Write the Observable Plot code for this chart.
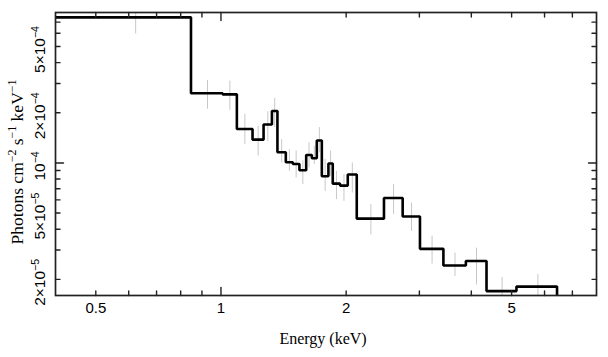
<!DOCTYPE html>
<html><head><meta charset="utf-8">
<script src="https://cdn.jsdelivr.net/npm/d3@7"></script>
<script src="https://cdn.jsdelivr.net/npm/@observablehq/plot@0.6"></script>
<style>body{margin:0;background:#fff} svg{display:block}</style>
</head><body><div id="chart"></div>
<script>
// Bin edges (keV)
const binLo = [0.400, 0.847, 1.009, 1.092, 1.191, 1.266, 1.326, 1.367, 1.432, 1.489, 1.544, 1.603, 1.654, 1.700, 1.748, 1.813, 1.857, 1.934, 2.018, 2.121, 2.466, 2.735, 3.010, 3.427, 3.881, 4.351, 5.136];
const binHi = [0.847, 1.009, 1.092, 1.191, 1.266, 1.326, 1.367, 1.432, 1.489, 1.544, 1.603, 1.654, 1.700, 1.748, 1.813, 1.857, 1.934, 2.018, 2.121, 2.466, 2.735, 3.010, 3.427, 3.881, 4.351, 5.136, 6.430];
// Model (step) values, photons cm^-2 s^-1 keV^-1
const model = [7.48e-4, 2.62e-4, 2.58e-4, 1.60e-4, 1.38e-4, 1.70e-4, 2.05e-4, 1.16e-4, 1.01e-4, 0.986e-4, 0.904e-4, 1.117e-4, 1.067e-4, 1.364e-4, 0.832e-4, 0.992e-4, 0.751e-4, 0.731e-4, 0.852e-4, 0.463e-4, 0.616e-4, 0.477e-4, 0.305e-4, 0.242e-4, 0.258e-4, 0.170e-4, 0.181e-4];
// Data error bars (grey)
const errLo = [5.94e-4, 2.10e-4, 2.07e-4, 1.29e-4, 1.10e-4, 1.34e-4, 1.63e-4, 1.00e-4, 0.891e-4, 0.812e-4, 0.741e-4, 0.933e-4, 0.978e-4, 1.15e-4, 0.675e-4, 0.832e-4, 0.602e-4, 0.588e-4, 0.660e-4, 0.370e-4, 0.489e-4, 0.388e-4, 0.247e-4, 0.208e-4, 0.185e-4, 0.13e-4, 0.14e-4];
const errHi = [9.5e-4, 3.13e-4, 3.10e-4, 1.96e-4, 1.66e-4, 2.03e-4, 2.44e-4, 1.38e-4, 1.20e-4, 1.18e-4, 1.03e-4, 1.32e-4, 1.26e-4, 1.63e-4, 1.05e-4, 1.18e-4, 0.891e-4, 0.852e-4, 1.00e-4, 0.562e-4, 0.741e-4, 0.574e-4, 0.364e-4, 0.288e-4, 0.308e-4, 0.205e-4, 0.214e-4];

const xDomain = [0.4, 8];
const yDomain = [1.6e-5, 8e-4];
const xLongTicks = [1];
const xShortTicks = [0.5, 0.6, 0.7, 0.8, 0.9, 2, 3, 4, 5, 6, 7];
const xTickValues = [0.5, 1, 2, 5];
const xTickLabels = ["0.5", "1", "2", "5"];
const yLongTicks = [1e-4];
const yShortTicks = [2e-5, 3e-5, 4e-5, 5e-5, 6e-5, 7e-5, 8e-5, 9e-5, 2e-4, 3e-4, 4e-4, 5e-4, 6e-4, 7e-4];
const yTickValues = [2e-5, 5e-5, 1e-4, 2e-4, 5e-4];
const yTickLabels = ["2×10^{−5}", "5×10^{−5}", "10^{−4}", "2×10^{−4}", "5×10^{−4}"];
const xTitle = "Energy (keV)";
const yTitle = "Photons cm^{−2} s^{−1} keV^{−1}";

const bins = binLo.map((lo, i) => ({lo, hi: binHi[i], v: model[i], eLo: errLo[i], eHi: errHi[i]}));
const stepPts = [];
bins.forEach(b => { stepPts.push({e: b.lo, f: b.v}); stepPts.push({e: b.hi, f: b.v}); });
stepPts.push({e: binHi[binHi.length - 1], f: yDomain[0]});

const tickShape = {draw(ctx, l) { ctx.moveTo(0, 0); ctx.lineTo(0, -l); }};
const tk = (data, ch, anchor, rotate, len) => Plot.vector(data, {
  [ch]: d => d, frameAnchor: anchor, rotate, length: len, anchor: "start",
  shape: tickShape, stroke: "#222", strokeWidth: 1.4
});

const sans = "'Liberation Sans', Arial, Helvetica, sans-serif";
const serif = "'Liberation Serif', 'Times New Roman', Times, serif";

const plot = Plot.plot({
  width: 608, height: 357,
  marginLeft: 55, marginRight: 12, marginTop: 12, marginBottom: 62,
  x: {type: "log", domain: xDomain, axis: null},
  y: {type: "log", domain: yDomain, axis: null},
  style: {fontFamily: sans, background: "#fff", color: "#000"},
  marks: [
    Plot.ruleX(bins, {x: d => (d.lo + d.hi) / 2, y1: "eLo", y2: "eHi", stroke: "#c8c8c8", strokeWidth: 1, clip: true}),
    Plot.line(stepPts, {x: "e", y: "f", stroke: "#000", strokeWidth: 2.6, strokeLinejoin: "miter", clip: true}),
    Plot.frame({stroke: "#222", strokeWidth: 1.7}),
    tk(xLongTicks, "x", "bottom", 0, 8), tk(xShortTicks, "x", "bottom", 0, 4.5),
    tk(xLongTicks, "x", "top", 180, 8), tk(xShortTicks, "x", "top", 180, 4.5),
    tk(yLongTicks, "y", "left", 90, 8), tk(yShortTicks, "y", "left", 90, 4.5),
    tk(yLongTicks, "y", "right", -90, 8), tk(yShortTicks, "y", "right", -90, 4.5),
    Plot.text(xTickValues, {x: d => d, text: (d, i) => xTickLabels[i], frameAnchor: "bottom", dy: 13, lineAnchor: "middle", fontSize: 15, fill: "#000"}),
    Plot.text(yTickValues, {y: d => d, text: (d, i) => yTickLabels[i], frameAnchor: "left", dx: -15, dy: 3, rotate: -90, lineAnchor: "middle", textAnchor: "middle", fontSize: 15.5, fill: "#000"}),
    Plot.text([xTitle], {text: d => d, frameAnchor: "bottom", dy: 43, dx: -3, lineAnchor: "middle", fontSize: 16, fontFamily: serif, fill: "#000"}),
    Plot.text([yTitle], {text: d => d, frameAnchor: "left", dx: -38, dy: 8, rotate: -90, lineAnchor: "middle", textAnchor: "middle", fontSize: 17.5, fontFamily: serif, fill: "#000"})
  ]
});

// Turn ^{...} markers into real superscript tspans
d3.select(plot).selectAll("text").each(function() {
  const t = this.textContent;
  if (!t.includes("^{")) return;
  const parts = t.split(/\^\{([^}]*)\}/);
  const el = d3.select(this);
  el.text(null);
  let raised = false;
  parts.forEach((p, i) => {
    if (p === "") return;
    const sup = i % 2 === 1;
    const ts = el.append("tspan").text(p);
    if (sup) { ts.attr("font-size", "0.68em").attr("dy", raised ? null : "-0.6em"); raised = true; }
    else if (raised) { ts.attr("dy", "0.408em"); raised = false; }
  });
});

document.getElementById("chart").appendChild(plot);
</script>
</body></html>
